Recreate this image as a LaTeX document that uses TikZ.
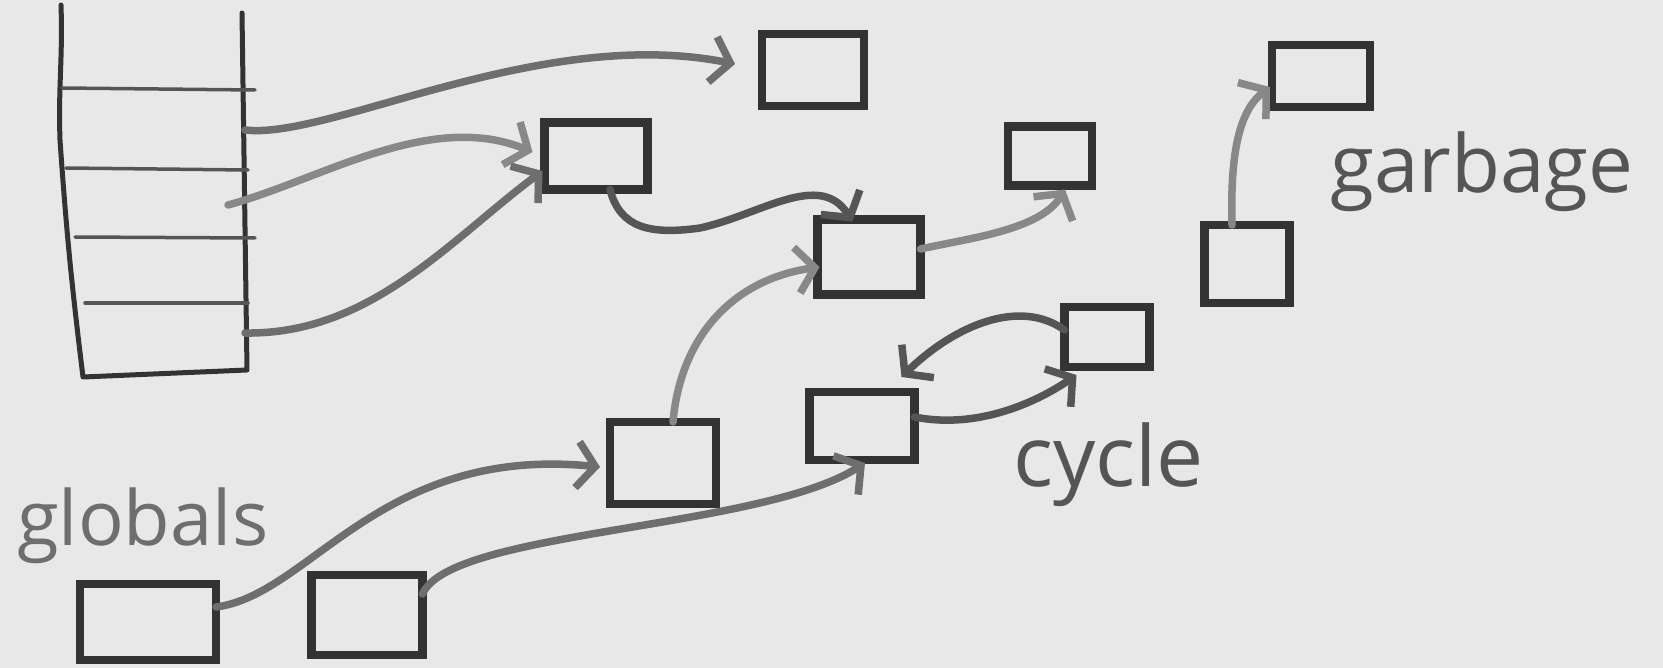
\documentclass[tikz,border=0pt]{standalone}
\usepackage{fontspec}
\setmainfont{Open Sans}
\usetikzlibrary{arrows.meta}
\definecolor{paper}{HTML}{E8E8E8}
\definecolor{ink}{HTML}{333333}
\definecolor{pencil}{HTML}{6E6E6E}
\definecolor{darkpencil}{HTML}{555555}
\definecolor{lightpencil}{HTML}{888888}
\begin{document}
\begin{tikzpicture}[x=1pt,y=-1pt,
  obj/.style={draw=ink, line width=8.5pt, inner sep=0pt, outer sep=0pt},
  ptr/.style={line width=7.5pt, draw=pencil, line cap=round,
    -{Straight Barb[length=18pt,width=46pt]}},
  slot/.style={line width=3.5pt, draw=darkpencil, line cap=round},
  frame/.style={line width=5pt, draw=ink, line cap=round, line join=round},
  hand/.style={inner sep=0pt, anchor=base west}]

\useasboundingbox[fill=paper] (0,0) rectangle (1663,668);

% the stack
\draw[frame] (61,5) to[out=-88,in=92] (60,140) to[out=-86,in=97] (83,377)
  -- (247,370) -- (242,13);
\draw[slot] (62,88) -- (255,90);
\draw[slot] (66,168) -- (248,170);
\draw[slot] (75,237) -- (255,238);
\draw[slot] (85,303) -- (248,303);
\coordinate (s1) at (245,130);
\coordinate (s2) at (228,205);
\coordinate (s4) at (245,333);

% heap objects
\node[obj, minimum width=102pt, minimum height=72pt] (b1) at (813,70) {};
\node[obj, minimum width=103pt, minimum height=67pt] (b2) at (596,156) {};
\node[obj, minimum width=84pt, minimum height=59pt] (b3) at (1050,156) {};
\node[obj, minimum width=103pt, minimum height=75pt] (b4) at (869,257) {};
\node[obj, minimum width=98pt, minimum height=62pt] (b5) at (1321,76) {};
\node[obj, minimum width=85pt, minimum height=78pt] (b6) at (1247,264) {};
\node[obj, minimum width=85pt, minimum height=60pt] (b7) at (1107,337) {};
\node[obj, minimum width=105pt, minimum height=68pt] (b8) at (862,426) {};
\node[obj, minimum width=106pt, minimum height=82pt] (b9) at (663,463) {};
% globals
\node[obj, minimum width=136pt, minimum height=76pt] (g1) at (148,622) {};
\node[obj, minimum width=111pt, minimum height=80pt] (g2) at (367,615) {};

% labels
\node[hand, text=pencil, font=\fontsize{76}{76}\selectfont] (tglobals) at (17,545) {globals};
\node[hand, text=darkpencil, font=\fontsize{80}{80}\selectfont] (tgarbage) at (1330,193) {garbage};
\node[hand, text=darkpencil, font=\fontsize{84}{84}\selectfont] (tcycle) at (1013,486) {cycle};

% pointers from the stack
\draw[ptr] (s1) .. controls (330,140) and (540,25) .. ([xshift=-27pt,yshift=6pt]b1.west);
\draw[ptr, draw=lightpencil] (s2) .. controls (320,180) and (430,110) .. ([xshift=-12pt,yshift=4pt]b2.west);
\draw[ptr] (s4) .. controls (370,335) and (450,240) .. ([xshift=-2pt,yshift=-15pt]b2.west);

% pointers between objects
\draw[ptr, draw=darkpencil] ([xshift=14pt]b2.south) .. controls (620,228) and (650,235) .. (700,228)
  .. controls (760,215) and (820,170) .. ([xshift=35pt,yshift=-2pt]b4.north west);
\draw[ptr, draw=lightpencil] ([yshift=8pt]b4.east) .. controls (970,238) and (1040,230) .. ([xshift=15pt,yshift=-4pt]b3.south);
\draw[ptr, draw=lightpencil] ([xshift=-15pt]b6.north) .. controls (1230,150) and (1240,110) .. ([xshift=-2pt,yshift=-11pt]b5.west);
\draw[ptr, draw=lightpencil] ([xshift=10pt]b9.north) .. controls (680,340) and (730,280) .. ([xshift=2pt,yshift=-10pt]b4.west);
\draw[ptr, draw=darkpencil] ([yshift=7pt]b7.west) .. controls (1020,298) and (955,325) .. ([xshift=-13pt,yshift=15pt]b8.north east);
\draw[ptr, draw=darkpencil] ([yshift=9pt]b8.east) .. controls (980,430) and (1040,400) .. ([xshift=12pt,yshift=-8pt]b7.south west);

% pointers from the globals
\draw[ptr] ([yshift=15pt]g1.east) .. controls (310,595) and (380,445) .. ([xshift=-10pt,yshift=-4pt]b9.west);
\draw[ptr] ([yshift=21pt]g2.east) .. controls (450,530) and (760,530) .. ([xshift=3pt,yshift=-3pt]b8.south);
\end{tikzpicture}
\end{document}
